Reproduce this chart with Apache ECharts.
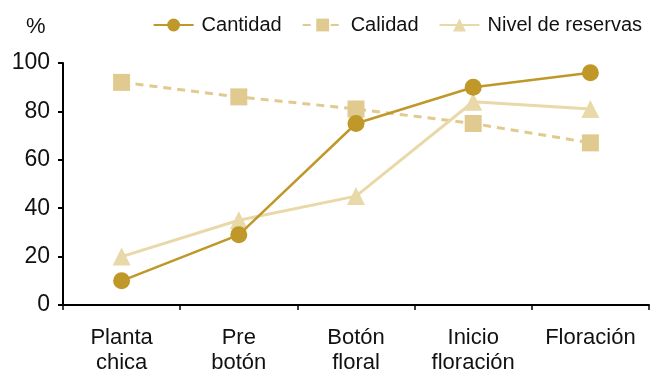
<!DOCTYPE html>
<html><head><meta charset="utf-8">
<script src="https://cdn.jsdelivr.net/npm/echarts@6/dist/echarts.min.js"></script>
<style>html,body{margin:0;padding:0;background:#fff}#c{width:655px;height:374px}</style>
</head><body><div id="c"></div>
<script>
const categories = ['Planta\nchica', 'Pre\nbotón', 'Botón\nfloral', 'Inicio\nfloración', 'Floración'];
const cantidad = [10, 29, 75, 90, 96];
const calidad = [92, 86, 81, 75, 67];
const nivelReservas = [20, 35, 45, 84, 81];
const yTicks = {min: 0, max: 100, interval: 20};

const font = 'Liberation Sans, Arial, sans-serif';
const chart = echarts.init(document.getElementById('c'));
chart.setOption({
  animation: false,
  title: {text: '%', left: 21, top: 11, textStyle: {fontFamily: font, fontSize: 22, fontWeight: 'normal', color: '#111'}},
  legend: {
    right: 8, top: 10, itemWidth: 40, itemHeight: 16, itemGap: 20,
    textStyle: {fontFamily: font, fontSize: 20, color: '#111', padding: [0, 0, 0, 3]},
    data: ['Cantidad', 'Calidad', 'Nivel de reservas']
  },
  grid: {left: 63, right: 6, top: 63, bottom: 69, containLabel: false, outerBoundsMode: 'none'},
  xAxis: {
    type: 'category', data: categories, boundaryGap: true,
    axisLine: {lineStyle: {color: '#000', width: 2}},
    axisTick: {show: true, length: 5, lineStyle: {color: '#000', width: 1.5}},
    axisLabel: {fontFamily: font, fontSize: 22, color: '#111', margin: 20, lineHeight: 25, interval: 0}
  },
  yAxis: {
    type: 'value', min: yTicks.min, max: yTicks.max, interval: yTicks.interval,
    axisLine: {show: true, lineStyle: {color: '#000', width: 2}},
    axisTick: {show: true, length: 5, lineStyle: {color: '#000', width: 2}},
    splitLine: {show: false},
    axisLabel: {fontFamily: font, fontSize: 23, color: '#111', margin: 13}
  },
  series: [
    {name: 'Cantidad', type: 'line', data: cantidad, symbol: 'circle', symbolSize: 17,
     itemStyle: {color: '#BF9829'}, lineStyle: {color: '#BF9829', width: 2.5}, z: 4},
    {name: 'Calidad', type: 'line', data: calidad, symbol: 'rect', symbolSize: 17,
     itemStyle: {color: '#E0CA8F'}, lineStyle: {color: '#E0CA8F', width: 3, type: [8, 6]}, z: 2},
    {name: 'Nivel de reservas', type: 'line', data: nivelReservas, symbol: 'triangle', symbolSize: 18,
     itemStyle: {color: '#E9D8A8'}, lineStyle: {color: '#E9D8A8', width: 3}, z: 3}
  ]
});
</script></body></html>
